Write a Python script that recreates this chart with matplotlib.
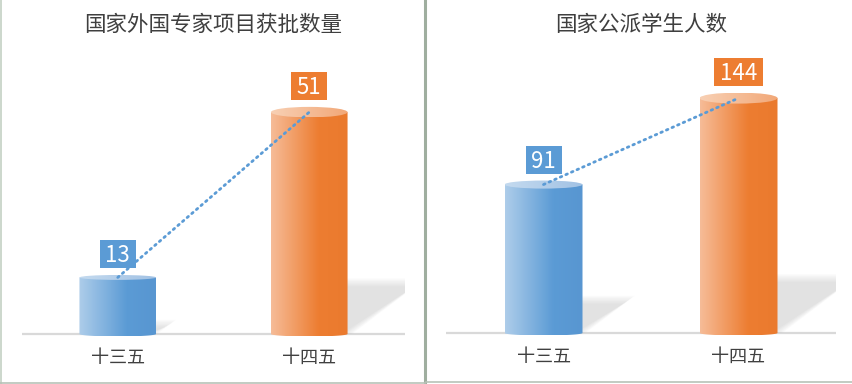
import numpy as np
import matplotlib.pyplot as plt
from matplotlib.patches import Ellipse, Polygon, Rectangle, PathPatch
from matplotlib.path import Path
from matplotlib.lines import Line2D
from matplotlib.colors import LinearSegmentedColormap

plt.rcParams['font.family'] = ['Noto Sans CJK SC', 'DejaVu Sans']

# data
categories = ['十三五', '十四五']
titles = ['国家外国专家项目获批数量', '国家公派学生人数']
experts = [13, 51]
students = [91, 144]
axis_max = [60, 160]

W, H = 852, 384
fig = plt.figure(figsize=(W / 100, H / 100), dpi=100)

blue, orange = '#5b9bd5', '#ed7d31'
body_cmaps = [
    LinearSegmentedColormap.from_list('b', [(0, '#aecdea'), (0.62, '#5b9bd5'), (1, '#5896d1')]),
    LinearSegmentedColormap.from_list('o', [(0, '#f6bc98'), (0.62, '#ed7d31'), (1, '#ea7a2e')]),
]
top_cmaps = [
    LinearSegmentedColormap.from_list('bt', ['#c4daef', '#a2c2e4']),
    LinearSegmentedColormap.from_list('ot', ['#f8d0b4', '#f2a878']),
]
box_colors = [blue, orange]
grad = np.linspace(0, 1, 256).reshape(1, -1)

PLOT_H = 261   # pixels from baseline to axis max
PAD = 10       # pixels below baseline kept inside the axes
BW = 0.4       # bar width in category units


def panel(left, base, width, values, ymax, title, title_x):
    ax = fig.add_axes([left / W, (H - base - PAD) / H, width / W, (PLOT_H + PAD) / H])
    ax.set_autoscale_on(False)
    ppx = width / 2.0
    ppy = PLOT_H / ymax
    ax.set_xlim(-0.5, 1.5)
    ax.set_ylim(-PAD / ppy, ymax)
    ax.axis('off')

    ax.plot([-0.5, 1.5], [0, 0], color='#d9d9d9', lw=1.6, solid_capstyle='butt', zorder=1)

    for i, v in enumerate(values):
        h = v * ppy
        x0, x1 = i - BW / 2, i + BW / 2
        ry_px = 1.5 + 0.017 * h
        ry = ry_px / ppy
        rb = 2.5 / ppy

        # soft shadow to the right of the cylinder
        for k in range(7):
            T = (0.25 * h - 1.3 * k) / ppy
            R = x1 + (0.35 * h - 1.8 * k) / ppx
            Rb = x1 + (0.02 * h - 1.8 * k) / ppx
            if T <= 0:
                continue
            ax.add_patch(Polygon([(x1 - 3 / ppx, 0), (x1 - 3 / ppx, T), (R, T), (Rb, 0)],
                                 closed=True, fc='#b4b4b4', ec='none', alpha=0.06, zorder=2))

        # cylinder body with horizontal gradient
        t = np.linspace(0, np.pi, 60)
        bottom = np.column_stack([i - BW / 2 * np.cos(t), -rb * np.sin(t)])
        verts = np.vstack([[(x0, v)], bottom, [(x1, v)], [(x0, v)]])
        codes = [Path.MOVETO] + [Path.LINETO] * (len(verts) - 2) + [Path.CLOSEPOLY]
        body = PathPatch(Path(verts, codes), fc='none', ec='none', transform=ax.transData)
        ax.add_patch(body)
        im = ax.imshow(grad, cmap=body_cmaps[i], extent=[x0, x1, -rb, v], aspect='auto',
                       interpolation='bilinear', zorder=3)
        im.set_clip_path(body)

        # top ellipse
        top = Ellipse((i, v), BW, 2 * ry, fc='none', ec='none', transform=ax.transData)
        ax.add_patch(top)
        im2 = ax.imshow(grad, cmap=top_cmaps[i], extent=[x0, x1, v - ry, v + ry], aspect='auto',
                        interpolation='bilinear', zorder=4)
        im2.set_clip_path(top)

        # data label box
        n = len(str(v))
        bw_px, bh_px = 10 + 13 * n, 28
        cy_px = ry_px + 21
        ax.add_patch(Rectangle((i - bw_px / 2 / ppx, v + (cy_px - bh_px / 2) / ppy),
                               bw_px / ppx, bh_px / ppy, fc=box_colors[i], ec='none',
                               zorder=7, clip_on=False))
        ax.annotate(str(v), xy=(i, v), xytext=(0, cy_px - 8.2), textcoords='offset pixels',
                    ha='center', va='baseline', color='white', fontsize=16, zorder=8,
                    annotation_clip=False)

        ax.annotate(categories[i], xy=(i, 0), xytext=(0, -24), textcoords='offset pixels',
                    ha='center', va='center', color='#404040', fontsize=13,
                    annotation_clip=False)

    # dotted trend line
    ax.plot([0, 1], values, color=blue, lw=2, linestyle=(0, (0.6, 1.6)),
            dash_capstyle='round', zorder=5)

    fig.text(title_x / W, 1 - 25 / H, title, ha='center', va='center',
             color='#3f3f3f', fontsize=15.5)


panel(22, 334, 383, experts, axis_max[0], titles[0], 213)
panel(446, 333, 390, students, axis_max[1], titles[1], 641)

# worksheet borders between the two chart objects
fig.add_artist(Line2D([1 / W, 1 / W], [0, 1], color='#c3d1c3', lw=1.2))
fig.add_artist(Line2D([425 / W, 425 / W], [0, 1], color='#9fae9f', lw=2.2))
fig.add_artist(Line2D([0, 425 / W], [1.5 / H, 1.5 / H], color='#b7c2b7', lw=1.2))
fig.add_artist(Line2D([426 / W, 1], [2.5 / H, 2.5 / H], color='#b7c2b7', lw=1.2))

fig.savefig('out.png', dpi=100, facecolor='white')
